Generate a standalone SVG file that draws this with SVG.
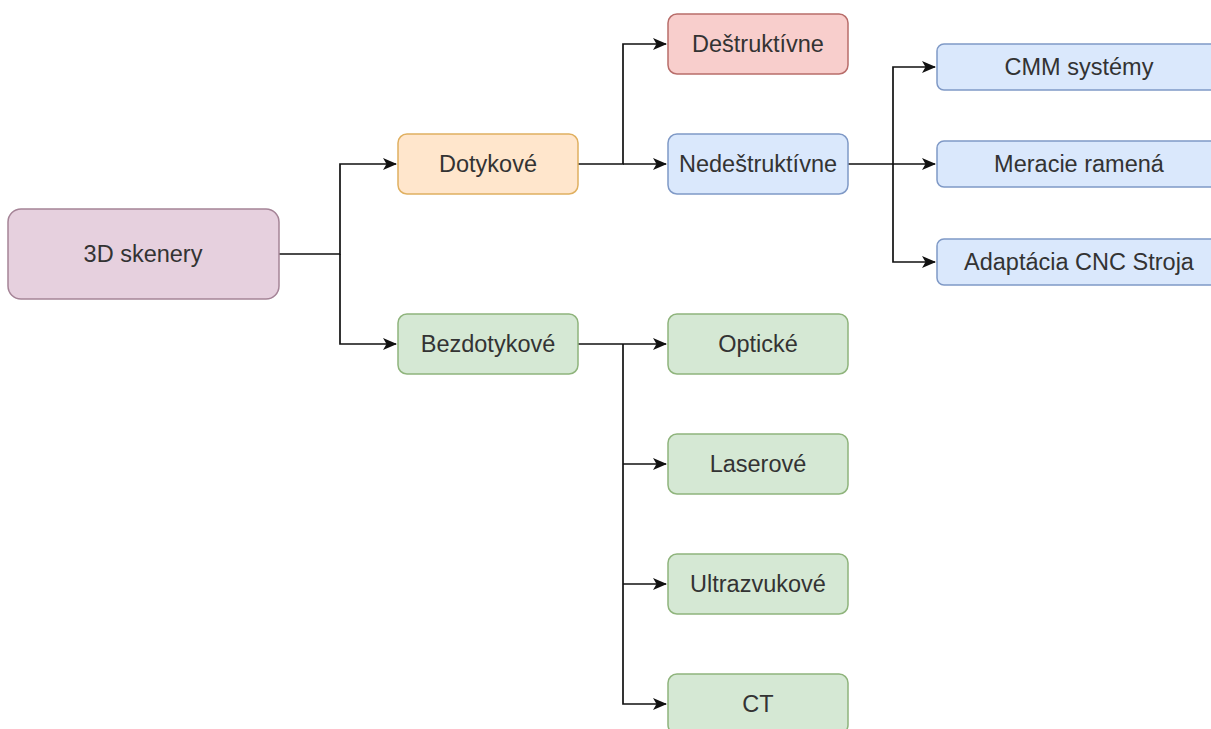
<svg xmlns="http://www.w3.org/2000/svg" width="1211" height="729" viewBox="0 0 1211 729">
<defs>
<marker id="arr" viewBox="0 0 14 12" refX="13" refY="6" markerWidth="14" markerHeight="12" markerUnits="userSpaceOnUse" orient="auto">
<path d="M0,0 L14,6 L0,12 L3.5,6 Z" fill="#111"/>
</marker>
<style>
text{font-family:"Liberation Sans",Arial,sans-serif;font-size:23.5px;fill:#333;text-anchor:middle;dominant-baseline:central}
.pur{fill:#e6d0de;stroke:#a58497;stroke-width:1.5}
.org{fill:#ffe6cc;stroke:#e0b060;stroke-width:1.5}
.red{fill:#f8cecc;stroke:#b86d6a;stroke-width:1.5}
.blu{fill:#dae8fc;stroke:#7f99c6;stroke-width:1.5}
.grn{fill:#d5e8d4;stroke:#8fb47c;stroke-width:1.5}
.c{fill:none;stroke:#111;stroke-width:1.7}
</style>
</defs>
<rect width="1211" height="729" fill="#fff"/>
<g id="connectors">
<path class="c" d="M279,254 H340 V164 H396" marker-end="url(#arr)"/>
<path class="c" d="M340,254 V344 H396" marker-end="url(#arr)"/>
<path class="c" d="M578,164 H623 V44 H666" marker-end="url(#arr)"/>
<path class="c" d="M623,164 H666" marker-end="url(#arr)"/>
<path class="c" d="M848,164 H893 V67 H935" marker-end="url(#arr)"/>
<path class="c" d="M893,164 H935" marker-end="url(#arr)"/>
<path class="c" d="M893,164 V262 H935" marker-end="url(#arr)"/>
<path class="c" d="M578,344 H666" marker-end="url(#arr)"/>
<path class="c" d="M623,344 V704 H666" marker-end="url(#arr)"/>
<path class="c" d="M623,464 H666" marker-end="url(#arr)"/>
<path class="c" d="M623,584 H666" marker-end="url(#arr)"/>
</g>
<g id="n-3d"><rect class="pur" x="8" y="209" width="271" height="90" rx="13"/><text x="143" y="254">3D skenery</text></g>
<g id="n-dotykove"><rect class="org" x="398" y="134" width="180" height="60" rx="9"/><text x="488" y="164">Dotykové</text></g>
<g id="n-bezdotykove"><rect class="grn" x="398" y="314" width="180" height="60" rx="9"/><text x="488" y="344">Bezdotykové</text></g>
<g id="n-destruktivne"><rect class="red" x="668" y="14" width="180" height="60" rx="9"/><text x="758" y="44">Deštruktívne</text></g>
<g id="n-nedestruktivne"><rect class="blu" x="668" y="134" width="180" height="60" rx="9"/><text x="758" y="164">Nedeštruktívne</text></g>
<g id="n-cmm"><rect class="blu" x="937" y="44" width="284" height="46" rx="7"/><text x="1079" y="67">CMM systémy</text></g>
<g id="n-meracie"><rect class="blu" x="937" y="141" width="284" height="46" rx="7"/><text x="1079" y="164">Meracie ramená</text></g>
<g id="n-adaptacia"><rect class="blu" x="937" y="239" width="284" height="46" rx="7"/><text x="1079" y="262">Adaptácia CNC Stroja</text></g>
<g id="n-opticke"><rect class="grn" x="668" y="314" width="180" height="60" rx="9"/><text x="758" y="344">Optické</text></g>
<g id="n-laserove"><rect class="grn" x="668" y="434" width="180" height="60" rx="9"/><text x="758" y="464">Laserové</text></g>
<g id="n-ultrazvukove"><rect class="grn" x="668" y="554" width="180" height="60" rx="9"/><text x="758" y="584">Ultrazvukové</text></g>
<g id="n-ct"><rect class="grn" x="668" y="674" width="180" height="60" rx="9"/><text x="758" y="704">CT</text></g>
</svg>
